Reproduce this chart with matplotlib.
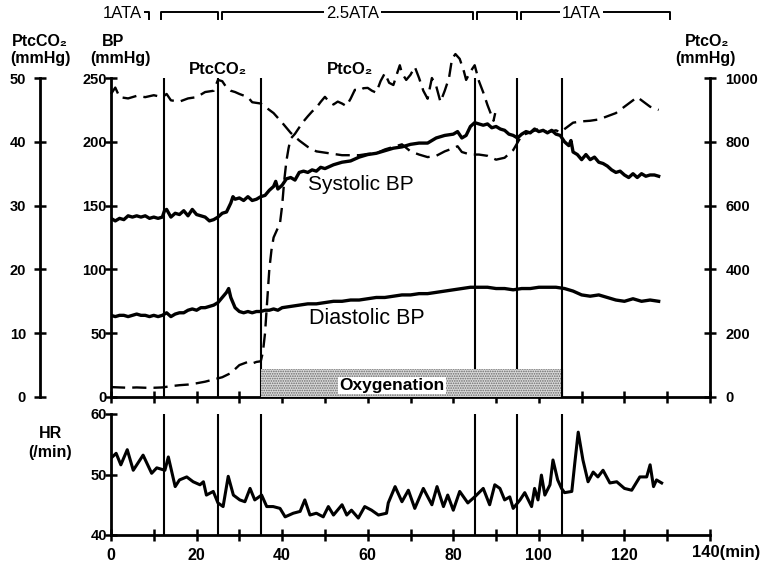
import matplotlib
matplotlib.use("Agg")
import matplotlib.pyplot as plt
import matplotlib.transforms as mtransforms
from matplotlib.patches import Rectangle

plt.rcParams['font.family'] = ['Liberation Sans', 'DejaVu Sans']
plt.rcParams['hatch.linewidth'] = 0.8
plt.rcParams['hatch.color'] = '#6a6a6a'

# ---------------- data ----------------
sys_t = [0, 1, 2, 3, 4, 5, 6, 7, 8, 9, 10, 11, 12, 12.5, 13, 14, 15, 16, 17, 18, 19, 20, 21, 22, 23, 24,
         25, 26, 27, 28, 28.5, 29, 30, 31, 32, 33, 34, 35, 36, 37, 38, 38.5, 39, 40, 41, 42, 43, 44, 45,
         46, 47, 48, 49, 50, 52, 54, 56, 58, 60, 62, 64, 66, 68, 70, 72, 74, 76, 78, 80, 81, 82, 83, 84,
         85, 86, 87, 88, 89, 90, 91, 92, 93, 94, 95, 96, 97, 98, 99, 100, 101, 102, 103, 104, 105, 106,
         107, 107.5, 108, 109, 110, 111, 112, 113, 114, 115, 116, 117, 118, 119, 120, 121, 122, 123, 124,
         125, 126, 127, 128]
sys_v = [140, 138, 140, 139, 142, 141, 142, 141, 142, 140, 141, 140, 141, 146, 147, 141, 144, 143, 146, 142,
         147, 143, 142, 141, 138, 139, 141, 144, 145, 152, 157, 155, 156, 154, 157, 154, 155, 157, 158, 162,
         165, 169, 163, 166, 171, 172, 170, 176, 177, 176, 178, 177, 180, 179, 182, 184, 185, 188, 190, 191,
         193, 195, 196, 198, 199, 199, 203, 205, 206, 208, 203, 205, 212, 215, 214, 213, 214, 211, 212, 210,
         209, 206, 205, 203, 206, 208, 207, 210, 208, 209, 207, 209, 206, 205, 200, 197, 201, 192, 190, 186,
         190, 186, 188, 184, 183, 181, 178, 176, 177, 174, 172, 175, 172, 175, 173, 174, 174, 173]

dia_t = [0, 1, 2, 3, 4, 5, 6, 7, 8, 9, 10, 11, 12, 13, 14, 15, 16, 17, 18, 19, 20, 21, 22, 23, 24, 25, 26,
         27, 27.5, 28, 29, 30, 31, 32, 33, 34, 35, 36, 37, 38, 39, 40, 42, 44, 46, 48, 50, 52, 54, 56, 58,
         60, 62, 64, 66, 68, 70, 72, 74, 76, 78, 80, 82, 84, 86, 88, 90, 92, 94, 96, 98, 100, 102, 104,
         106, 108, 110, 112, 114, 116, 118, 120, 122, 124, 126, 128]
dia_v = [64, 63, 64, 64, 63, 64, 65, 64, 64, 63, 64, 63, 64, 66, 63, 65, 66, 66, 68, 69, 68, 70, 70, 71, 72,
         74, 78, 82, 85, 78, 70, 67, 66, 67, 66, 67, 67, 68, 68, 69, 68, 70, 71, 72, 73, 73, 74, 75, 75, 76,
         76, 77, 78, 78, 79, 80, 80, 81, 81, 82, 83, 84, 85, 86, 86, 86, 85, 85, 84, 85, 85, 86, 86, 86, 85,
         83, 80, 79, 80, 78, 76, 75, 77, 75, 76, 75]

co2_t = [0, 1, 2, 4, 6, 8, 10, 12, 13, 14, 16, 18, 20, 22, 24, 25, 26, 27, 28, 29, 30, 32, 33, 35, 36, 37,
         38, 40, 42, 44, 46, 48, 50, 52, 54, 56, 58, 60, 62, 64, 66, 68, 70, 72, 74, 76, 78, 80, 81, 82, 84,
         86, 88, 90, 92, 94, 96, 98, 100, 102, 104, 105, 106, 108, 110, 112, 114, 116, 118, 120, 122, 123,
         124, 126, 128]
co2_v = [47.5, 48.5, 47, 46.8, 47.2, 47, 47.3, 47, 47.5, 46.5, 46.3, 46.8, 47, 47.8, 48, 49.7, 49.5, 48.5,
         48, 47.8, 47.5, 47, 46.2, 46, 45.5, 45, 44.5, 43, 41.4, 40.2, 39.2, 38.5, 38.3, 38.1, 37.9, 37.9,
         37.9, 38.1, 38.2, 38.8, 39.2, 39.6, 38.5, 38, 37.6, 37.8, 38.5, 39, 39.3, 38.4, 38, 38, 37.8, 37.2,
         37.5, 38.7, 41, 41.5, 42, 41.5, 41.8, 41.5, 42, 43, 43.2, 43.3, 43.5, 44, 44.5, 45.5, 46.5, 47,
         46.5, 45.5, 45]

o2_t = [0, 2, 4, 6, 8, 10, 12, 13, 14, 16, 18, 20, 22, 24, 26, 28, 30, 32, 33, 34, 35, 35.5, 36, 36.5, 37,
        37.5, 38, 39, 39.5, 40, 40.5, 41, 41.5, 42, 43, 44, 45, 46, 47, 48, 49, 50, 51, 52, 53, 54, 55, 56,
        57, 58, 59, 60, 61, 62, 63, 64, 65, 66, 67, 67.5, 68, 69, 70, 71, 72, 73, 74, 75, 76, 77, 78, 79,
        79.7, 80.5, 81.5, 82.5, 83, 84, 85, 86, 87, 88, 89, 89.4, 89.8]
o2_v = [31, 30, 29, 30, 29, 29, 30, 32, 34, 37, 39, 43, 48, 55, 62, 75, 100, 110, 105, 110, 112, 140, 200,
        300, 400, 460, 500, 530, 545, 600, 680, 740, 780, 810, 825, 845, 864, 880, 895, 907, 925, 941, 925,
        917, 926, 920, 912, 935, 963, 960, 968, 969, 960, 954, 990, 1015, 985, 978, 1020, 1040, 1015, 994,
        1010, 1035, 1000, 960, 935, 1000, 975, 925, 960, 1000, 1060, 1075, 1060, 1020, 994, 1020, 1040, 990,
        955, 915, 880, 866, 890]

hr_t = [0, 1.2, 2.3, 3.8, 5.2, 7.5, 9.5, 10.7, 12.6, 13.4, 15, 16, 17.7, 19.2, 20.8, 21.6, 22.3, 23.9, 25,
        26.2, 27.4, 28.6, 30.1, 31.3, 32.5, 33.6, 35.2, 36.4, 37.9, 39.5, 40.7, 42.6, 44.2, 45.3, 46.5, 48,
        49.6, 50.8, 52, 54, 55.1, 56.2, 57.8, 59.3, 60.9, 62.5, 64.4, 64.8, 66.4, 68, 69.5, 71, 73, 75,
        76.2, 77.7, 78.7, 80, 81.5, 83.4, 85, 87, 88.5, 89.7, 90.9, 92, 93.2, 94, 95.6, 96.7, 98.3, 99,
        99.8, 100.6, 101.4, 102.6, 103.3, 104.4, 105.3, 106, 107.7, 108.4, 109.2, 110.3, 111.5, 112.7,
        113.8, 115, 116.6, 118.2, 120, 121.7, 123.6, 125.2, 126, 126.8, 127.5, 128.7]
hr_v = [52.7, 53.5, 51.6, 54.1, 50.7, 53.2, 50.2, 51.1, 50.7, 52.9, 48, 49.1, 49.6, 48.8, 48.3, 48.8, 46.6,
        47.2, 45.3, 44.7, 49.7, 46.6, 45.8, 45.5, 47.7, 45.8, 46.6, 44.7, 44.7, 44.4, 43, 43.6, 43.9, 45.8,
        43.3, 43.6, 43, 44.7, 43.3, 45, 43.3, 44.1, 42.8, 44.7, 44.1, 43.3, 43.6, 45.3, 48, 45.5, 47.4,
        44.4, 47.7, 45, 48, 44.7, 46.6, 44.1, 47.2, 45.3, 46.3, 47.7, 45, 48.3, 47.7, 45.8, 46.3, 44.4,
        45.8, 47, 44.7, 47.7, 45.8, 49.9, 46.6, 48.3, 52.4, 49.1, 47.7, 47, 47.2, 51.9, 57, 52.4, 48.8,
        50.4, 49.6, 50.7, 48.6, 48.8, 47.7, 47.4, 49.6, 49.6, 51.6, 48, 49.1, 48.6]

event_times = [12.5, 25, 35, 85, 95, 105.3]
oxygenation = (35, 105.3)
oxy_height = 22
stage_spans = [(-2, 8.9), (11.7, 25), (26, 84.6), (85.5, 94.9), (95.8, 130.6)]
stage_labels = [("1ATA", 7.3, 'right'), ("2.5ATA", 56.5, 'center'), ("1ATA", 110, 'center')]

bp_ticks = [0, 50, 100, 150, 200, 250]
co2_ticks = [0, 10, 20, 30, 40, 50]
o2_ticks = [0, 200, 400, 600, 800, 1000]
hr_ticks = [40, 50, 60]
x_labels = [0, 20, 40, 60, 80, 100, 120]

# ---------------- figure ----------------
W, H = 760, 565
fig = plt.figure(figsize=(W / 100, H / 100), dpi=100)

def fx(px):
    return px / W

def fy(py):
    return 1 - py / H

ax = fig.add_axes([fx(111), fy(397), fx(710) - fx(111), fy(78) - fy(397)])
axh = fig.add_axes([fx(111), fy(535), fx(710) - fx(111), fy(414) - fy(535)])

tick_font = dict(family=['Liberation Sans', 'DejaVu Sans'], weight='bold', size=10.5)

for a in (ax, axh):
    a.set_xlim(0, 140)
    a.spines['top'].set_visible(False)
    a.spines['right'].set_visible(False)
    for s in ('left', 'bottom'):
        a.spines[s].set_linewidth(2.0)
    a.tick_params(direction='inout', length=8, width=1.8, pad=1)
    a.set_xticks(range(0, 141, 10))

ax.set_ylim(0, 250)
ax.set_yticks(bp_ticks)
ax.set_yticklabels([str(v) for v in bp_ticks], fontdict=tick_font)
ax.tick_params(axis='x', labelbottom=False)
ax.tick_params(axis='y', pad=-1)

axh.set_ylim(40, 60)
axh.set_yticks(hr_ticks)
axh.set_yticklabels([str(v) for v in hr_ticks], fontdict=tick_font)
axh.tick_params(axis='y', pad=-1)
axh.set_xticks(range(0, 141, 10))
axh.set_xticklabels([str(v) if v in x_labels else '' for v in range(0, 141, 10)],
                    fontdict=dict(family=['Liberation Sans', 'DejaVu Sans'], weight='bold', size=11.5))
axh.tick_params(axis='x', pad=5)

# PtcCO2 axis (far left)
axc = ax.twinx()
axc.set_ylim(0, 50)
for s in ('top', 'right', 'bottom'):
    axc.spines[s].set_visible(False)
axc.spines['left'].set_visible(True)
axc.spines['left'].set_position(('axes', (40 - 111) / 599))
axc.spines['left'].set_linewidth(2.0)
axc.yaxis.tick_left()
axc.set_yticks(co2_ticks)
axc.set_yticklabels([str(v) for v in co2_ticks], fontdict=tick_font)
axc.tick_params(direction='inout', length=8, width=1.8, pad=6)

# PtcO2 axis (right)
axo = ax.twinx()
axo.set_ylim(0, 1000)
for s in ('top', 'left', 'bottom'):
    axo.spines[s].set_visible(False)
axo.spines['right'].set_linewidth(2.0)
axo.set_yticks(o2_ticks)
axo.set_yticklabels([str(v) for v in o2_ticks], fontdict=tick_font)
axo.tick_params(direction='inout', length=8, width=1.8, pad=7)

# ---------------- marks ----------------
dash = (0, (6, 3))
ax.plot(sys_t, sys_v, color='black', lw=2.4, solid_joinstyle='round', zorder=5)
ax.plot(dia_t, dia_v, color='black', lw=2.4, solid_joinstyle='round', zorder=5)
axc.plot(co2_t, co2_v, color='black', lw=1.7, linestyle=dash, clip_on=False, zorder=4)
axo.plot(o2_t, o2_v, color='black', lw=1.7, linestyle=dash, clip_on=False, zorder=4)
axh.plot(hr_t, hr_v, color='black', lw=2.2, solid_joinstyle='round')

ax.vlines(event_times, 0, 250, color='black', lw=1.5, zorder=3)
axh.vlines(event_times, 40, 60, color='black', lw=1.5)

ax.add_patch(Rectangle((oxygenation[0], 0), oxygenation[1] - oxygenation[0], oxy_height,
                       facecolor='#d9d9d9', edgecolor='#6a6a6a', hatch='.......', lw=0, zorder=3.5))
ax.vlines([oxygenation[1]], 0, oxy_height, color='black', lw=1.5, zorder=3.6)
ax.text(65.7, 8.8, "Oxygenation", ha='center', va='center', fontsize=12.5, fontweight='bold',
        bbox=dict(facecolor='white', edgecolor='none', pad=0.8), zorder=6)

# curve annotations
ax.text((361 - 111) / 4.279, (397 - 184) / 1.276, "Systolic BP", ha='center', va='center',
        fontsize=15, zorder=7)
ax.text((367 - 111) / 4.279, (397 - 318) / 1.276, "Diastolic BP", ha='center', va='center',
        fontsize=15.5, zorder=7)
ax.text((218 - 111) / 4.279, (397 - 70) / 1.276, "PtcCO₂", ha='center', va='center', fontsize=12,
        fontweight='bold', clip_on=False)
ax.text((350 - 111) / 4.279, (397 - 70) / 1.276, "PtcO₂", ha='center', va='center', fontsize=12,
        fontweight='bold', clip_on=False)

# axis titles
lab = dict(ha='center', va='center', fontsize=11.5, fontweight='bold')
fig.text(fx(40), fy(41), "PtcCO₂", **lab)
fig.text(fx(40), fy(59), "(mmHg)", **lab)
fig.text(fx(113), fy(41), "BP", **lab)
fig.text(fx(120), fy(59), "(mmHg)", **lab)
fig.text(fx(707), fy(41), "PtcO₂", **lab)
fig.text(fx(705), fy(59), "(mmHg)", **lab)
fig.text(fx(50), fy(434), "HR", **lab)
fig.text(fx(50), fy(452), "(/min)", **lab)
fig.text(fx(692), fy(553), "140(min)", ha='left', va='center', fontsize=12, fontweight='bold')

# pressure stage brackets above the plot
trans = mtransforms.blended_transform_factory(ax.transData, fig.transFigure)
ybr = fy(12)
ytk = fy(19)
for i, (x0, x1) in enumerate(stage_spans):
    if i == 0:
        ax.plot([x0 + 9.3, x1, x1], [ybr, ybr, ytk], color='black', lw=1.4, transform=trans, clip_on=False)
    else:
        ax.plot([x0, x0, x1, x1], [ytk, ybr, ybr, ytk], color='black', lw=1.4, transform=trans, clip_on=False)
for txt, xpos, ha in stage_labels:
    ax.text(xpos, fy(13), txt, ha=ha, va='center', fontsize=12, transform=trans, clip_on=False,
            bbox=dict(facecolor='white', edgecolor='none', pad=1.5))

fig.savefig("out.png", dpi=100, facecolor='white')
